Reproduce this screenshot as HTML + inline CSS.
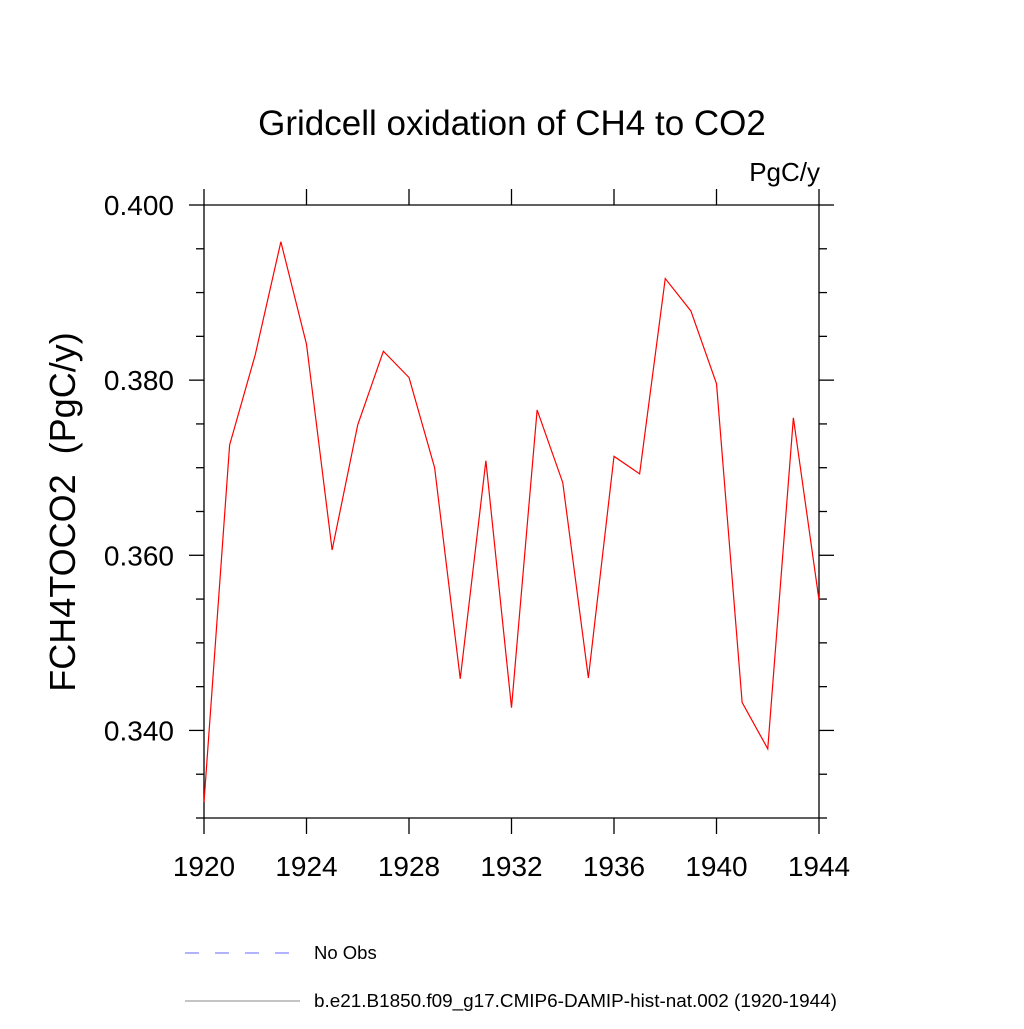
<!DOCTYPE html>
<html><head><meta charset="utf-8"><style>
body{margin:0;background:#fff;}
svg text{font-family:"Liberation Sans",sans-serif;fill:#000;}
</style></head><body>
<svg width="1024" height="1024" xmlns="http://www.w3.org/2000/svg">
<text x="512" y="135" font-size="35" text-anchor="middle">Gridcell oxidation of CH4 to CO2</text>
<text x="820" y="181" font-size="26" text-anchor="end">PgC/y</text>
<text transform="translate(75,512) rotate(-90)" font-size="36" text-anchor="middle">FCH4TOCO2&#160; (PgC/y)</text>
<g id="axes"></g>
<polyline id="line" fill="none" stroke="#ff0000" stroke-width="1.2"/>
<g>
<line x1="185" y1="953" x2="295" y2="953" stroke="#6666ff" stroke-width="1" stroke-dasharray="14,16"/>
<text x="314" y="959" font-size="18.5">No Obs</text>
<line x1="185" y1="1001" x2="300" y2="1001" stroke="#888" stroke-width="1"/>
<text x="314" y="1007" font-size="18.9">b.e21.B1850.f09_g17.CMIP6-DAMIP-hist-nat.002 (1920-1944)</text>
</g>
</svg>
<script>
const years=[1920,1921,1922,1923,1924,1925,1926,1927,1928,1929,1930,1931,1932,1933,1934,1935,1936,1937,1938,1939,1940,1941,1942,1943,1944];
const values=[0.3318,0.3726,0.3829,0.3958,0.3841,0.3606,0.3749,0.3833,0.3803,0.3700,0.3459,0.3708,0.3426,0.3766,0.3683,0.3460,0.3713,0.3693,0.3916,0.3879,0.3796,0.3432,0.3379,0.3757,0.3549];
const xTicks=[1920,1924,1928,1932,1936,1940,1944];
const yTicks=[0.340,0.360,0.380,0.400];
const yMinor=[0.330,0.335,0.345,0.350,0.355,0.365,0.370,0.375,0.385,0.390,0.395];
const L=204,R=819,T=205,B=818,x0=1920,x1=1944,y0=0.330,y1=0.400;
const sx=v=>L+(v-x0)/(x1-x0)*(R-L);
const sy=v=>B-(v-y0)/(y1-y0)*(B-T);
const NS="http://www.w3.org/2000/svg";
const ax=document.getElementById('axes');
function ln(a,b,c,d,name){const e=document.createElementNS(NS,'line');e.setAttribute('x1',a);e.setAttribute('y1',b);e.setAttribute('x2',c);e.setAttribute('y2',d);e.setAttribute('stroke','#000');e.setAttribute('stroke-width','1.3');


ax.appendChild(e);}
function tx(x,y,s,anchor,name){const e=document.createElementNS(NS,'text');e.setAttribute('x',x);e.setAttribute('y',y);e.setAttribute('font-size','28');e.setAttribute('text-anchor',anchor);e.textContent=s;


ax.appendChild(e);}
ln(L,T,R,T,'plot-frame-top');ln(L,B,R,B,'plot-frame-bottom');ln(L,T,L,B,'plot-frame-left');ln(R,T,R,B,'plot-frame-right');
xTicks.forEach(v=>{const x=sx(v);ln(x,B,x,B+16,'x-tick');ln(x,T,x,T-16,'x-tick-top');tx(x,876,String(v),'middle','x-tick-label');});
yTicks.forEach(v=>{const y=sy(v);ln(L-15,y,L,y,'y-tick');ln(R,y,R+15,y,'y-tick-right');tx(174,y+10,v.toFixed(3),'end','y-tick-label');});
yMinor.forEach(v=>{const y=sy(v);ln(L-8,y,L,y,'y-minor-tick');ln(R,y,R+8,y,'y-minor-tick-right');});
document.getElementById('line').setAttribute('points',years.map((y,i)=>sx(y)+','+sy(values[i])).join(' '));
</script>
</body></html>
